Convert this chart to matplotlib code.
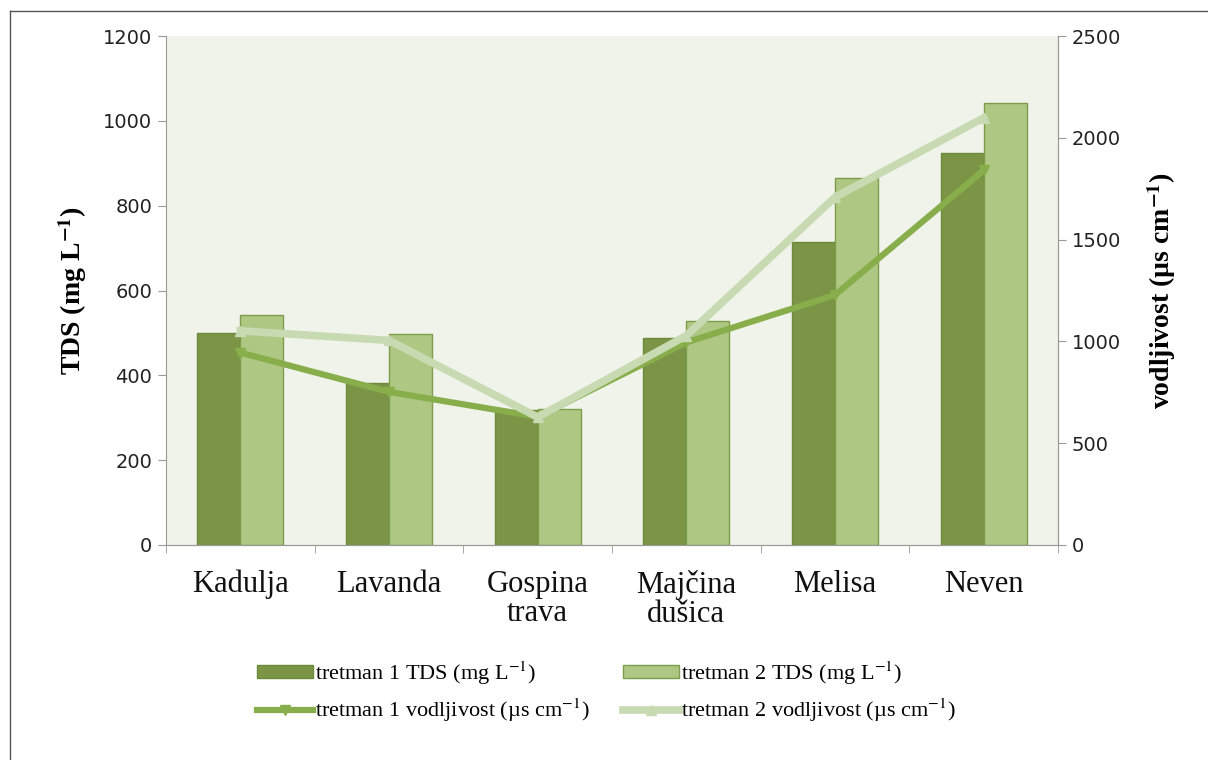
import matplotlib
matplotlib.use('Agg')
import matplotlib.pyplot as plt
import numpy as np
from matplotlib.lines import Line2D

plt.rcParams['mathtext.fontset'] = 'stix'

categories = ['Kadulja', 'Lavanda', 'Gospina\ntrava', 'Majčina\ndušica', 'Melisa', 'Neven']
tds_t1 = [500, 382, 318, 488, 714, 924]
tds_t2 = [542, 497, 320, 528, 865, 1042]
vod_t1 = [945, 752, 630, 995, 1228, 1840]
vod_t2 = [1052, 1005, 628, 1028, 1708, 2098]

serif = 'Liberation Serif'
c_t1 = '#7b9445'
c_t2 = '#aec884'
c_l1 = '#88ad4b'
c_l2 = '#c8dab2'

fig = plt.figure(figsize=(12.08, 7.6), dpi=100)
ax = fig.add_axes([0.1374, 0.2829, 0.7384, 0.6697])
ax2 = ax.twinx()

x = np.arange(len(categories))
w = 0.29
ax.bar(x - w / 2, tds_t1, w, color=c_t1, edgecolor='#6e8a3c', linewidth=1, zorder=2)
ax.bar(x + w / 2, tds_t2, w, color=c_t2, edgecolor='#7e9c4a', linewidth=1, zorder=2)
ax.set_facecolor('#f0f3ea')
ax.set_xlim(-0.5, len(categories) - 0.5)
ax.set_ylim(0, 1200)
ax.set_yticks(range(0, 1201, 200))

ax2.plot(x, vod_t1, color=c_l1, linewidth=4.5, marker='v', markersize=7,
         solid_joinstyle='round')
ax2.plot(x, vod_t2, color=c_l2, linewidth=5.5, marker='^', markersize=7,
         solid_joinstyle='round')
ax2.set_ylim(0, 2500)
ax2.set_yticks(range(0, 2501, 500))

# category ticks at boundaries
ax.set_xticks(x)
ax.set_xticklabels(categories, fontsize=22, family=serif, linespacing=1.0,
                   color='#111111')
ax.tick_params(axis='x', length=0, pad=18)
ax.set_xticks(np.arange(-0.5, len(categories), 1), minor=True)
ax.tick_params(axis='x', which='minor', length=6, color='#999999')

for a in (ax, ax2):
    for s in a.spines.values():
        s.set_color('#999999')
    a.spines['top'].set_visible(False)
    a.tick_params(axis='y', labelsize=14, labelcolor='#222222', color='#999999',
                  length=6, pad=4)
ax2.spines['left'].set_visible(False)

ax.set_ylabel('TDS (mg L$^{\\mathbf{-1}}$)', fontsize=20, family=serif,
              fontweight='bold', labelpad=10)
ax2.set_ylabel('vodljivost (µs cm$^{\\mathbf{-1}}$)', fontsize=20, family=serif,
               fontweight='bold', labelpad=17)

h_t1 = plt.Rectangle((0, 0), 1, 1, facecolor=c_t1, edgecolor='#6e8a3c')
h_t2 = plt.Rectangle((0, 0), 1, 1, facecolor=c_t2, edgecolor='#7e9c4a')
h_l1 = Line2D([], [], color=c_l1, linewidth=4.5, marker='v', markersize=7)
h_l2 = Line2D([], [], color=c_l2, linewidth=5.5, marker='^', markersize=7)
handles = [h_t1, h_l1, h_t2, h_l2]
labels = [
    'tretman 1 TDS (mg L$^{-1}$)',
    'tretman 1 vodljivost (µs cm$^{-1}$)',
    'tretman 2 TDS (mg L$^{-1}$)',
    'tretman 2 vodljivost (µs cm$^{-1}$)',
]
fig.legend(handles, labels, loc='center', bbox_to_anchor=(0.502, 0.09), ncol=2,
           frameon=False, prop={'family': serif, 'size': 16},
           handlelength=2.5, handleheight=0.5, handletextpad=0.1,
           columnspacing=1.5, labelspacing=0.45)

# outer frame
fig.add_artist(Line2D([10 / 1208, 10 / 1208], [0, 1 - 11 / 760],
                      transform=fig.transFigure, color='#555555', linewidth=1))
fig.add_artist(Line2D([10 / 1208, 1], [1 - 11 / 760, 1 - 11 / 760],
                      transform=fig.transFigure, color='#555555', linewidth=1))

fig.savefig('out.png', dpi=100)
